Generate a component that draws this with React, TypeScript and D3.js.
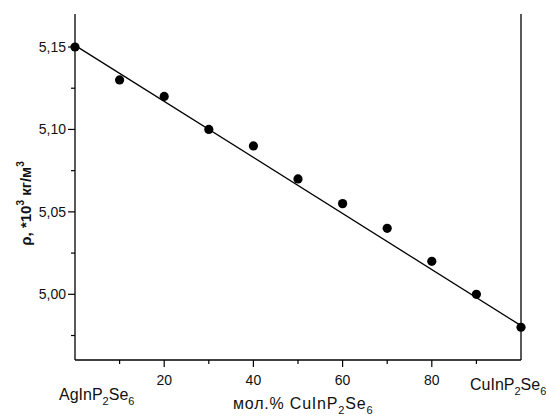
import React from "react";
import * as d3 from "d3";

const xValues = [0, 10, 20, 30, 40, 50, 60, 70, 80, 90, 100];
const rhoValues = [5.15, 5.13, 5.12, 5.1, 5.09, 5.07, 5.055, 5.04, 5.02, 5.0, 4.98];
const fitX = [0, 100];
const fitY = [5.151, 4.981];
const xMajorTicks = [20, 40, 60, 80];
const xMinorTicks = [10, 30, 50, 70, 90];
const yMajorTicks = [5.0, 5.05, 5.1, 5.15];
const yMinorTicks = [4.975, 5.025, 5.075, 5.125];

function Formula({ x, y, prefix, size, sub }: { x: number; y: number; prefix: string; size: number; sub: number }) {
  return (
    <text x={x} y={y} fontSize={size} fill="#111">
      {prefix}InP<tspan fontSize={sub} dy={5}>2</tspan><tspan dy={-5}>Se</tspan><tspan fontSize={sub} dy={5}>6</tspan>
    </text>
  );
}

export default function App() {
  const W = 546, H = 416;
  const x = d3.scaleLinear().domain([0, 100]).range([75, 521]);
  const y = d3.scaleLinear().domain([5.0, 5.15]).range([294.3, 47]);
  const top = 14, bottom = 360;
  const fmt = (v: number) => v.toFixed(2).replace(".", ",");
  const font = "'Liberation Sans', Arial, sans-serif";
  const line = d3.line<number>().x((_, i) => x(fitX[i])).y((d) => y(d));
  return (
    <svg width={W} height={H} style={{ position: "absolute", left: 0, top: 0, background: "#fff" }} fontFamily={font}>
      <rect width={W} height={H} fill="#fff" />
      <line x1={x(0)} x2={x(0)} y1={top} y2={bottom} stroke="#000" strokeWidth={1.3} />
      <line x1={x(100)} x2={x(100)} y1={top} y2={bottom} stroke="#000" strokeWidth={1.3} />
      <line x1={x(0)} x2={x(100)} y1={bottom} y2={bottom} stroke="#000" strokeWidth={1.3} />
      {yMajorTicks.map((t) => (
        <g key={"ym" + t}>
          <line x1={x(0) - 7} x2={x(0)} y1={y(t)} y2={y(t)} stroke="#000" strokeWidth={1.2} />
          <text x={66} y={y(t) + 5} textAnchor="end" fontSize={14} fill="#111">{fmt(t)}</text>
        </g>
      ))}
      {yMinorTicks.map((t) => (
        <line key={"yn" + t} x1={x(0) - 4} x2={x(0)} y1={y(t)} y2={y(t)} stroke="#000" strokeWidth={1.2} />
      ))}
      {xMajorTicks.map((t) => (
        <g key={"xm" + t}>
          <line x1={x(t)} x2={x(t)} y1={bottom} y2={bottom + 7} stroke="#000" strokeWidth={1.2} />
          <text x={x(t)} y={385} textAnchor="middle" fontSize={14} fill="#111">{t}</text>
        </g>
      ))}
      {xMinorTicks.map((t) => (
        <line key={"xn" + t} x1={x(t)} x2={x(t)} y1={bottom} y2={bottom + 4} stroke="#000" strokeWidth={1.2} />
      ))}
      <path d={line(fitY) || ""} fill="none" stroke="#000" strokeWidth={1.3} />
      {xValues.map((v, i) => (
        <circle key={i} cx={x(v)} cy={y(rhoValues[i])} r={4.6} fill="#000" />
      ))}
      <Formula x={59} y={400} prefix="Ag" size={16} sub={11} />
      <Formula x={470} y={390} prefix="Cu" size={16} sub={11} />
      <text x={233} y={409} fontSize={16} letterSpacing={0.8} fill="#111">
        мол.% CuInP<tspan fontSize={11} dy={5}>2</tspan><tspan dy={-5}>Se</tspan><tspan fontSize={11} dy={5}>6</tspan>
      </text>
      <text transform="translate(31,203.5) rotate(-90)" textAnchor="middle" fontSize={15} fontWeight="bold" fill="#111">
        ρ, *10<tspan fontSize={10} dy={-7}>3</tspan><tspan dy={7}> кг/м</tspan><tspan fontSize={10} dy={-7}>3</tspan>
      </text>
    </svg>
  );
}
